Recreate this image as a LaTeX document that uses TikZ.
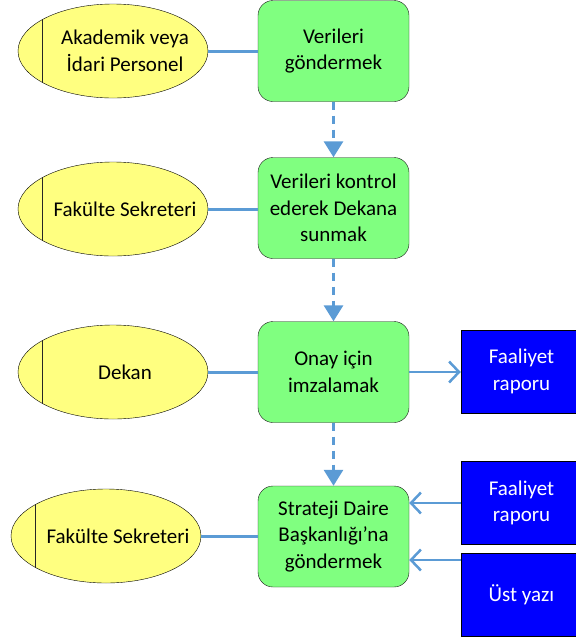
\documentclass[tikz,border=0pt]{standalone}
\usepackage{fontspec}
\setmainfont{Carlito}
\usetikzlibrary{shapes.geometric}
\usetikzlibrary{arrows.meta}

\definecolor{actorfill}{RGB}{255,255,128}
\definecolor{stepfill}{RGB}{128,255,128}
\definecolor{docfill}{RGB}{0,0,255}
\definecolor{linkblue}{RGB}{91,155,213}

\begin{document}
\begin{tikzpicture}[x=1pt,y=-1pt,
    actor/.style={
% The shape:
ellipse,
% The size:
minimum width=190pt,
minimum height=94pt,
% The border:
draw=black, thin, fill=actorfill,
path picture={\draw[black!85] ([xshift=24pt]path picture bounding box.north west) -- ([xshift=24pt]path picture bounding box.south west);}
},
    actortext/.style={
align=center,
font=\fontsize{21}{26.7}\selectfont
},
    stepbox/.style={
% The shape:
rectangle, rounded corners=15pt,
% The size:
minimum height=101pt,
minimum width=151pt,
% The border:
draw=black!90, thin, fill=stepfill,
align=center,
font=\fontsize{21}{26.7}\selectfont
},
    docbox/.style={
% The shape:
rectangle,
% The size:
minimum height=83pt,
minimum width=121pt,
% The border:
draw=black, thin, fill=docfill, text=white,
align=center,
font=\fontsize{21}{26.7}\selectfont
},
    link/.style={linkblue, line width=3pt},
    flow/.style={linkblue, line width=3pt, dash pattern=on 8pt off 6pt,
                 -{Triangle[length=16pt,width=19pt]}},
    feed/.style={linkblue, line width=2.5pt,
                 -{Straight Barb[length=10pt,width=21pt,line width=2.5pt]}},
]
  \useasboundingbox (0,0) rectangle (576,641);

  % actors
  \node[actor] (akademik) at (113,51)  {};
  \node[actor] (sekreter) at (113,209) {};
  \node[actor] (dekan)    at (113,372) {};
  \node[actor] (sekreter2) at (106,536) {};
  \node[actortext] at ([xshift=12pt]akademik.center)  {Akademik veya\\İdari Personel};
  \node[actortext] at ([xshift=12pt]sekreter.center)  {Fakülte Sekreteri};
  \node[actortext] at ([xshift=12pt]dekan.center)     {Dekan};
  \node[actortext] at ([xshift=12pt]sekreter2.center) {Fakülte Sekreteri};

  % steps
  \node[stepbox] (gonder)  at (333.5,51)  {Verileri\\göndermek};
  \node[stepbox] (kontrol) at (333.5,208) {Verileri kontrol\\ederek Dekana\\sunmak};
  \node[stepbox] (onay)    at (333.5,372)   {Onay için\\imzalamak};
  \node[stepbox] (strateji) at (333.5,536.5) {Strateji Daire\\Başkanlığı’na\\göndermek};

  % documents
  \node[docbox] (rapor1) at (521.5,371.5) {Faaliyet\\raporu};
  \node[docbox] (rapor2) at (521.5,503)   {Faaliyet\\raporu};
  \node[docbox] (ustyazi) at (521.5,595)  {Üst yazı};

  \draw[link] (akademik) -- (akademik -| gonder.west);
  \draw[link] (sekreter) -- (sekreter -| kontrol.west);
  \draw[link] (dekan)    -- (dekan -| onay.west);
  \draw[link] (sekreter2) -- (sekreter2 -| strateji.west);

  \draw[flow] (gonder)  -- (kontrol);
  \draw[flow] (kontrol) -- (onay);
  \draw[flow] (onay)    -- (strateji);

  \draw[feed] (onay) -- (onay -| rapor1.west);
  \draw[feed] (rapor2) -- (rapor2 -| strateji.east);
  \draw[feed] (ustyazi.west |- 0,560) -- (strateji.east |- 0,560);
\end{tikzpicture}
\end{document}
